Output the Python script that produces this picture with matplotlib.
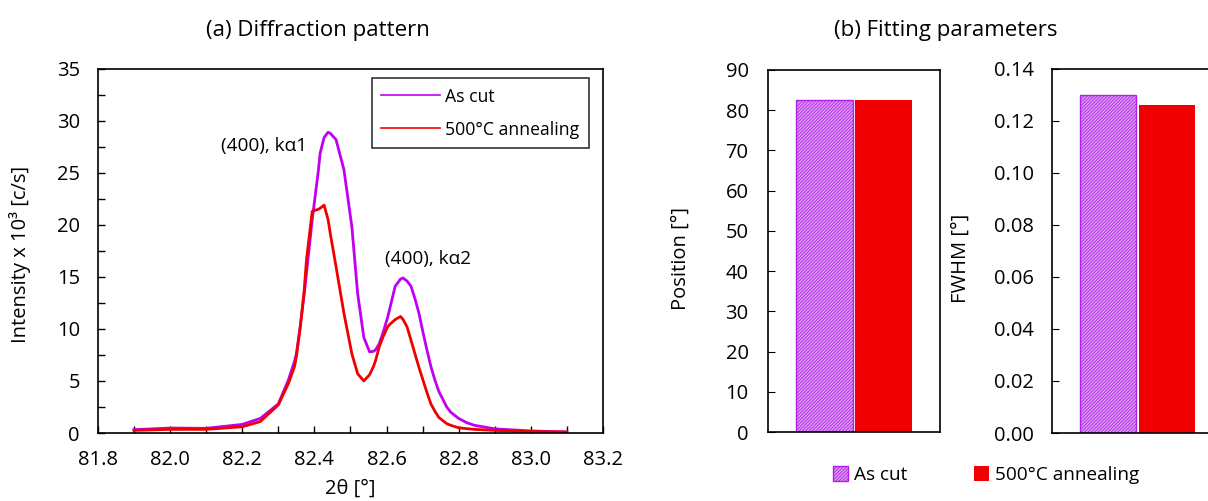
import matplotlib
matplotlib.use("Agg")
import matplotlib.pyplot as plt
from matplotlib.ticker import MultipleLocator

plt.rcParams['font.family'] = ['Open Sans', 'DejaVu Sans']
plt.rcParams['font.size'] = 14.5
plt.rcParams['hatch.linewidth'] = 0.6

# --- data ---
theta = [81.9, 82.0, 82.1, 82.2, 82.25, 82.3, 82.328, 82.345, 82.35, 82.361, 82.372, 82.378,
         82.394, 82.411, 82.416, 82.427, 82.438, 82.444, 82.46, 82.482, 82.504, 82.52, 82.537,
         82.553, 82.564, 82.57, 82.58, 82.59, 82.603, 82.608, 82.624, 82.639, 82.646, 82.657,
         82.668, 82.679, 82.69, 82.701, 82.712, 82.723, 82.734, 82.745, 82.767, 82.778, 82.8,
         82.822, 82.844, 82.9, 83.0, 83.1]
as_cut = [0.32, 0.48, 0.45, 0.83, 1.4, 2.8, 5.1, 6.9, 7.6, 10.3, 13.4, 15.3,
          20.5, 25.2, 26.9, 28.4, 28.9, 28.8, 28.2, 25.3, 19.8, 13.4, 9.2,
          7.8, 7.85, 8.0, 8.6, 9.6, 11.1, 11.8, 14.1, 14.8, 14.9, 14.6,
          14.1, 12.9, 11.5, 9.7, 8.0, 6.4, 5.1, 4.0, 2.5, 2.0, 1.4,
          1.0, 0.74, 0.4, 0.2, 0.1]
annealed = [0.25, 0.35, 0.35, 0.6, 1.1, 2.7, 4.75, 6.4, 7.3, 10.2, 13.8, 16.6,
            21.3, 21.5, 21.6, 21.9, 20.5, 19.2, 16.0, 11.5, 7.6, 5.7, 5.0,
            5.6, 6.4, 7.0, 8.3, 9.2, 10.2, 10.4, 10.9, 11.2, 10.9, 10.2,
            8.9, 7.6, 6.3, 5.1, 3.9, 2.8, 2.1, 1.5, 0.9, 0.74, 0.5,
            0.42, 0.35, 0.25, 0.15, 0.1]

samples = ['As cut', '500°C annealing']
position = [82.5, 82.5]
fwhm = [0.130, 0.126]

violet = '#c000f0'
red = '#f00000'

fig = plt.figure(figsize=(12.08, 5.01), dpi=100)

# (a) diffraction pattern
ax1 = fig.add_axes([0.0811, 0.1357, 0.418, 0.727])
ax1.plot(theta, as_cut, color=violet, lw=2, label=samples[0])
ax1.plot(theta, annealed, color=red, lw=2, label=samples[1])
ax1.set_xlim(81.8, 83.2)
ax1.set_ylim(0, 35)
ax1.xaxis.set_major_locator(MultipleLocator(0.2))
ax1.xaxis.set_minor_locator(MultipleLocator(0.1))
ax1.yaxis.set_major_locator(MultipleLocator(5))
ax1.yaxis.set_minor_locator(MultipleLocator(2.5))
ax1.xaxis.set_major_formatter(plt.FormatStrFormatter('%.1f'))
ax1.tick_params(which='both', direction='in', length=5, width=1)
ax1.tick_params(axis='x', pad=12)
ax1.tick_params(axis='y', pad=13)
ax1.set_xlabel('2θ [°]')
ax1.set_ylabel('Intensity x 10³ [c/s]')
ax1.xaxis.set_label_coords(0.499, -0.126)
ax1.yaxis.set_label_coords(-0.133, 0.49)
ax1.text(82.26, 27.6, '(400), kα1', ha='center', va='center', fontsize=13.7)
ax1.text(82.715, 16.7, '(400), kα2', ha='center', va='center', fontsize=13.7)
leg = ax1.legend(loc='upper right', bbox_to_anchor=(0.972, 0.975), borderaxespad=0,
                 fancybox=False, edgecolor='black', handlelength=3.3, labelspacing=0.85,
                 borderpad=0.55, handletextpad=0.3, fontsize=12.7)
leg.get_frame().set_linewidth(1.2)
for line in leg.get_lines():
    line.set_linewidth(1.2)
for sp in ax1.spines.values():
    sp.set_linewidth(1.2)

# (b) fitting parameters
xpos = [0.657, 1.343]
bar_w = 0.66
hatch_kw = dict(facecolor='#dc9cf2', edgecolor='#b020ea', hatch='//////////', linewidth=1)

ax2 = fig.add_axes([0.6358, 0.1377, 0.1424, 0.7226])
b1 = ax2.bar(xpos[0], position[0], width=bar_w, label=samples[0], **hatch_kw)
b2 = ax2.bar(xpos[1], position[1], width=bar_w, color=red, label=samples[1])
ax2.set_xlim(0, 2)
ax2.set_ylim(0, 90)
ax2.yaxis.set_major_locator(MultipleLocator(10))
ax2.set_xticks([])
ax2.tick_params(direction='in', length=5, pad=14)
ax2.set_ylabel('Position [°]')
ax2.yaxis.set_label_coords(-0.448, 0.48)

ax3 = fig.add_axes([0.8705, 0.1357, 0.1424, 0.727])
ax3.bar(xpos[0], fwhm[0], width=bar_w, **hatch_kw)
ax3.bar(xpos[1], fwhm[1], width=bar_w, color=red)
ax3.set_xlim(0, 2)
ax3.set_ylim(0, 0.14)
ax3.yaxis.set_major_locator(MultipleLocator(0.02))
ax3.yaxis.set_major_formatter(plt.FormatStrFormatter('%.2f'))
ax3.set_xticks([])
ax3.tick_params(direction='in', length=5, pad=13)
ax3.set_ylabel('FWHM [°]')
ax3.yaxis.set_label_coords(-0.468, 0.48)

for ax in (ax2, ax3):
    for sp in ax.spines.values():
        sp.set_linewidth(1.2)

fig.legend(handles=[b1, b2], loc='center', bbox_to_anchor=(0.816, 0.052), ncol=2,
           frameon=False, handlelength=0.8, handleheight=0.8, handletextpad=0.3,
           columnspacing=3.5, fontsize=13.7)

fig.text(0.263, 0.94, '(a) Diffraction pattern', ha='center', va='center', fontsize=16)
fig.text(0.783, 0.94, '(b) Fitting parameters', ha='center', va='center', fontsize=16)

fig.savefig('out.png', dpi=100)
